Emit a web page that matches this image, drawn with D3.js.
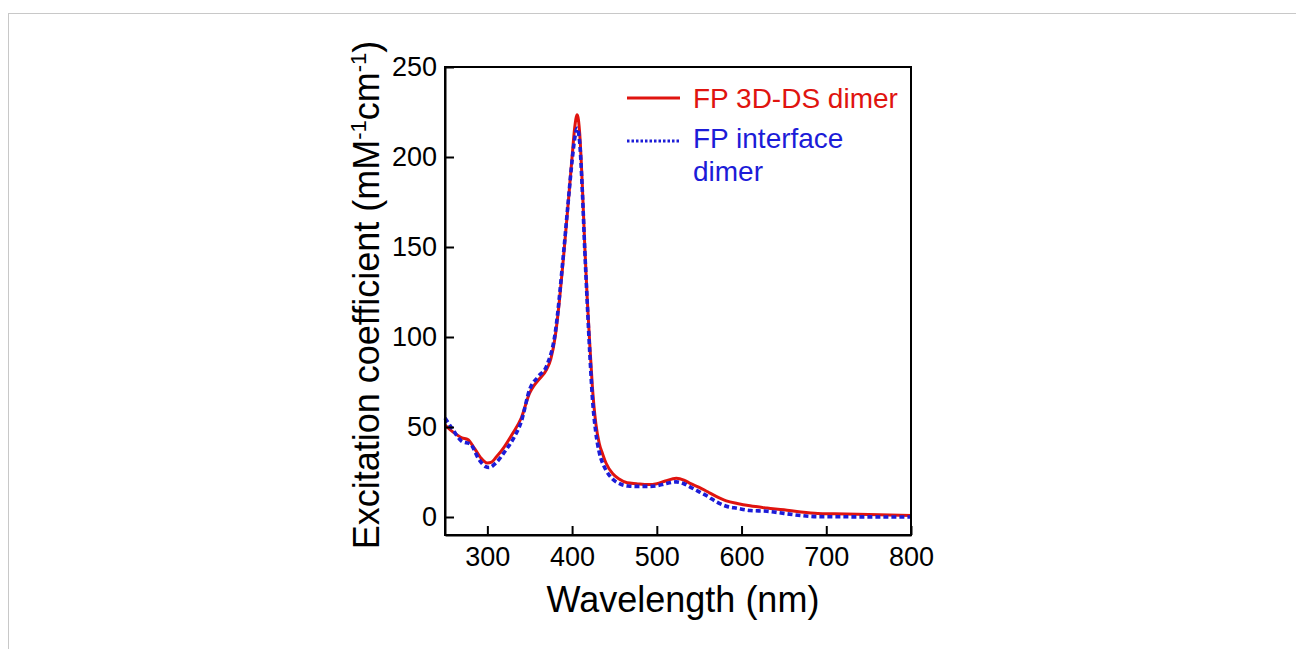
<!DOCTYPE html>
<html>
<head>
<meta charset="utf-8">
<script src="https://cdn.jsdelivr.net/npm/d3@7"></script>
<style>
  body { margin: 0; background: #fff; }
  #frame { position: absolute; left: 8px; top: 13px; width: 1300px; height: 650px;
           border-left: 1px solid #c8c8c8; border-top: 1px solid #c8c8c8; }
  svg { position: absolute; left: 0; top: 0; }
  text { font-family: "Liberation Sans", Arial, sans-serif; }
</style>
</head>
<body>
<div id="frame"></div>
<div id="dataviz"></div>
<script>
// spectra (wavelength nm, coefficient mM-1cm-1)
const redWave = [250, 260, 270, 277, 285, 292, 300, 305, 310, 320, 330, 340, 350, 355, 360, 370, 375, 380, 385, 390, 395, 400, 403, 406, 409, 412, 415, 418, 421, 424, 428, 432, 436, 440, 448, 456, 465, 476, 490, 500, 510, 523, 532, 540, 550, 560, 570, 582, 595, 610, 630, 650, 670, 690, 710, 750, 800];
const redVal  = [51, 47, 44, 43, 38, 33, 30, 30.5, 33, 39, 46.5, 55, 69, 73, 76, 82, 88, 100, 120, 145, 172, 200, 216, 223.5, 213, 185, 150, 120, 95, 72, 52, 41, 35, 30, 24, 21, 19, 18.5, 18, 18.5, 20, 21.5, 20.5, 18.5, 16.5, 14, 11.5, 9, 7.5, 6.2, 5, 4, 2.8, 2, 1.8, 1.4, 0.8];

const blueWave = [250, 260, 270, 280, 290, 298, 302, 310, 320, 330, 340, 350, 360, 370, 380, 390, 395, 400, 403, 406, 409, 412, 415, 418, 421, 424, 428, 432, 436, 440, 448, 456, 466, 476, 490, 500, 510, 523, 532, 540, 550, 560, 570, 582, 595, 610, 630, 650, 670, 690, 800];
const blueVal  = [55, 48, 42, 40.5, 32, 28, 27.5, 30, 36, 43, 53, 71, 78, 84, 102, 147, 173, 198, 210, 216, 208, 182, 148, 118, 90, 66, 47, 36, 30, 26, 21, 18.5, 17.2, 17, 17, 17.3, 18.5, 19.5, 18.5, 16.5, 14, 11.5, 8.5, 6, 4.8, 3.6, 3.2, 2, 0.8, 0.2, 0];

const xTicks = [300, 400, 500, 600, 700, 800];
const yTicks = [0, 50, 100, 150, 200, 250];
const legendLabels = [["FP 3D-DS dimer"], ["FP interface", "dimer"]];

const margin = {top: 67, right: 385, bottom: 114, left: 445},
    width = 1296 - margin.left - margin.right,
    height = 649 - margin.top - margin.bottom;

const svg = d3.select("#dataviz")
    .append("svg")
    .attr("width", 1296)
    .attr("height", 649)
  .append("g")
    .attr("transform", `translate(${margin.left}, ${margin.top})`);

const x = d3.scaleLinear().domain([250, 800]).range([0, width]);
const y = d3.scaleLinear().domain([-10, 250]).range([height, 0]);

const red = "#e0140f", blue = "#1c1cd8";

// lines
const line = d3.line()
    .x(d => x(d[0]))
    .y(d => y(d[1]))
    .curve(d3.curveMonotoneX);

svg.append("path")
    .datum(redWave.map((w, i) => [w, redVal[i]]))
    .attr("fill", "none")
    .attr("stroke", red)
    .attr("stroke-width", 3)
    .attr("d", line);

svg.append("path")
    .datum(blueWave.map((w, i) => [w, blueVal[i]]))
    .attr("fill", "none")
    .attr("stroke", blue)
    .attr("stroke-width", 3.6)
    .attr("stroke-dasharray", "5,3")
    .attr("d", line);

// box
svg.append("rect")
    .attr("width", width)
    .attr("height", height)
    .attr("fill", "none")
    .attr("stroke", "#000")
    .attr("stroke-width", 2);

// axes with inward ticks
const xAxis = svg.append("g")
    .attr("transform", `translate(0,${height})`)
    .call(d3.axisBottom(x).tickValues(xTicks).tickSizeInner(-9).tickSizeOuter(0).tickPadding(12));
const yAxis = svg.append("g")
    .call(d3.axisLeft(y).tickValues(yTicks).tickSizeInner(-9).tickSizeOuter(0).tickPadding(8));

[xAxis, yAxis].forEach(a => {
  a.select(".domain").attr("stroke-width", 2);
  a.selectAll(".tick line").attr("stroke-width", 2);
  a.selectAll(".tick text")
      .attr("font-size", 27)
      .attr("font-family", "Liberation Sans, Arial, sans-serif")
      .attr("fill", "#000");
});

// axis titles
svg.append("text")
    .attr("x", width / 2 + 5)
    .attr("y", 545)
    .attr("text-anchor", "middle")
    .attr("font-size", 36)
    .text("Wavelength (nm)");

const yt = svg.append("text")
    .attr("transform", `translate(${-66},${228}) rotate(-90)`)
    .attr("text-anchor", "middle")
    .attr("font-size", 36);
yt.append("tspan").text("Excitation coefficient (mM");
yt.append("tspan").attr("font-size", 22).attr("dy", -13).text("-1");
yt.append("tspan").attr("dy", 13).text("cm");
yt.append("tspan").attr("font-size", 22).attr("dy", -13).text("-1");
yt.append("tspan").attr("dy", 13).text(")");

// legend
const leg = svg.append("g").attr("transform", "translate(182,31)");
leg.append("line").attr("x1", 0).attr("x2", 53).attr("y1", 0).attr("y2", 0)
    .attr("stroke", red).attr("stroke-width", 3);
leg.append("line").attr("x1", 0).attr("x2", 53).attr("y1", 43).attr("y2", 43)
    .attr("stroke", blue).attr("stroke-width", 3).attr("stroke-dasharray", "2.5,2");

leg.append("text").attr("x", 66).attr("y", 10).attr("font-size", 28).attr("fill", red)
    .text(legendLabels[0][0]);
legendLabels[1].forEach((t, i) => {
  leg.append("text").attr("x", 66).attr("y", 50 + i * 33).attr("font-size", 28).attr("fill", blue)
      .text(t);
});
</script>
</body>
</html>
